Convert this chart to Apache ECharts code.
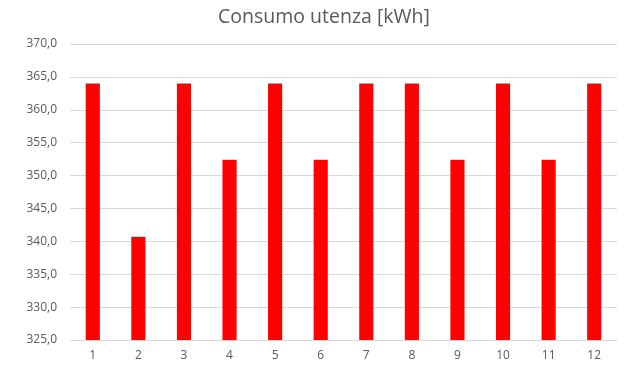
<!DOCTYPE html>
<html><head><meta charset="utf-8">
<script src="https://cdn.jsdelivr.net/npm/echarts@6/dist/echarts.min.js"></script>
<style>html,body{margin:0;padding:0;background:#fff}#c{width:626px;height:380px}</style>
</head><body><div id="c"></div>
<script>
const categories = ['1','2','3','4','5','6','7','8','9','10','11','12'];
const consumo = [364.0, 340.7, 364.0, 352.4, 364.0, 352.4, 364.0, 364.0, 352.4, 364.0, 352.4, 364.0];
const titleText = 'Consumo utenza [kWh]';
const chart = echarts.init(document.getElementById('c'));
chart.setOption({
  animation: false,
  title: { text: titleText, left: 213, top: 2,
    textStyle: { fontFamily: 'Open Sans', fontSize: 19.5, fontWeight: 'normal', color: '#595959' } },
  grid: { left: 70, right: 9, top: 44, bottom: 40 },
  xAxis: { type: 'category', data: categories,
    axisLine: { lineStyle: { color: '#d9d9d9' } }, axisTick: { show: false },
    axisLabel: { color: '#595959', fontFamily: 'Open Sans', fontSize: 12, margin: 10 } },
  yAxis: { type: 'value', min: 325, max: 370, interval: 5,
    axisLine: { show: false }, axisTick: { show: false },
    splitLine: { lineStyle: { color: '#d9d9d9' } },
    axisLabel: { color: '#595959', fontFamily: 'Open Sans', fontSize: 12, margin: 13,
      formatter: v => v.toFixed(1).replace('.', ',') } },
  series: [{ type: 'bar', data: consumo, barWidth: '31%', itemStyle: { color: '#ff0000' } }]
});
</script></body></html>
